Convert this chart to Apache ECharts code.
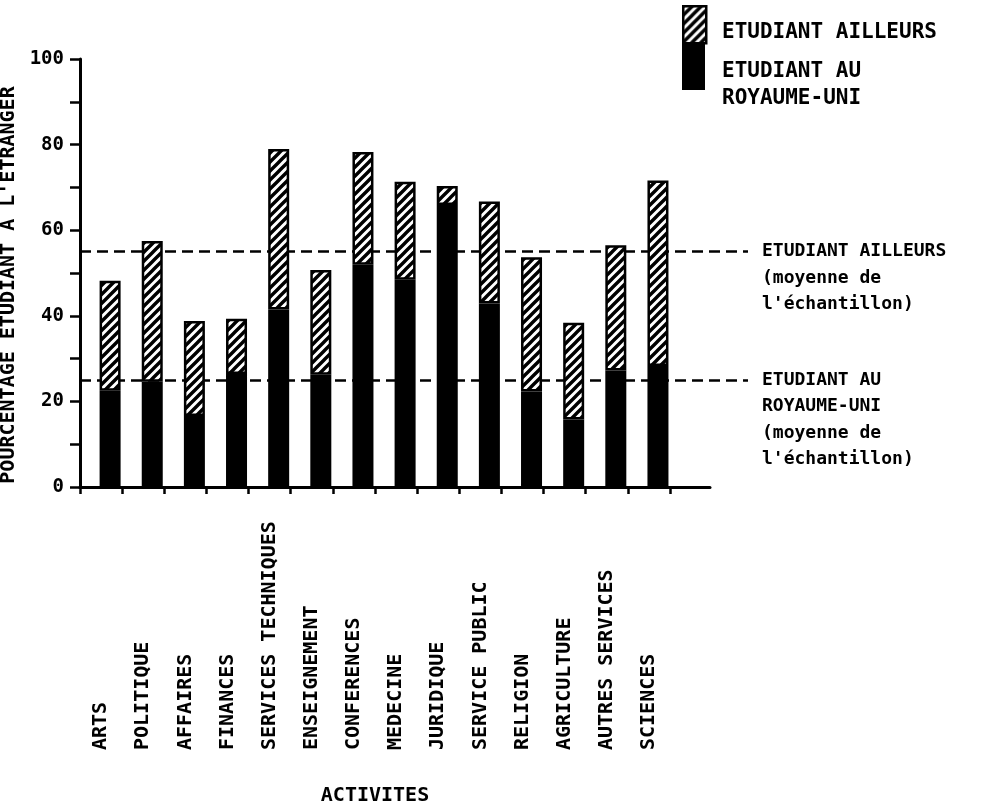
<!DOCTYPE html>
<html>
<head>
<meta charset="utf-8">
<script src="https://cdn.jsdelivr.net/npm/echarts@6/dist/echarts.min.js"></script>
<style>
  html, body { margin: 0; padding: 0; background: #fff; }
  #chart { width: 997px; height: 811px; }
</style>
</head>
<body>
<div id="chart"></div>
<script>
// ---- Data ----
const categories = ['ARTS', 'POLITIQUE', 'AFFAIRES', 'FINANCES', 'SERVICES TECHNIQUES', 'ENSEIGNEMENT',
  'CONFERENCES', 'MEDECINE', 'JURIDIQUE', 'SERVICE PUBLIC', 'RELIGION', 'AGRICULTURE', 'AUTRES SERVICES', 'SCIENCES'];
const ukValues = [22.5, 24.6, 16.6, 26.4, 41.5, 26.2, 51.9, 48.4, 65.9, 42.9, 22.3, 15.8, 27.2, 28.3];
const elsewhereValues = [25.7, 32.9, 22.2, 12.9, 37.5, 24.5, 26.4, 22.9, 4.4, 23.8, 31.4, 22.6, 29.3, 43.3];
const seriesNames = ['ETUDIANT AU ROYAUME-UNI', 'ETUDIANT AILLEURS'];
const legendLabels = ['ETUDIANT AILLEURS', 'ETUDIANT AU\nROYAUME-UNI'];
const meanValues = [55, 25];
const meanLabels = ['ETUDIANT AILLEURS\n(moyenne de\nl\'échantillon)', 'ETUDIANT AU\nROYAUME-UNI\n(moyenne de\nl\'échantillon)'];
const yMin = 0, yMax = 100, yTickStep = 10, yLabelStep = 20;
const yAxisTitle = 'POURCENTAGE ETUDIANT A L\'ETRANGER';
const xAxisTitle = 'ACTIVITES';

// ---- Hatch pattern ----
function makeHatch() {
  const s = 9;
  const c = document.createElement('canvas');
  c.width = s; c.height = s;
  const g = c.getContext('2d');
  g.fillStyle = '#fff';
  g.fillRect(0, 0, s, s);
  g.strokeStyle = '#000';
  g.lineWidth = 3.4;
  g.beginPath();
  g.moveTo(-1, s + 1); g.lineTo(s + 1, -1);
  g.moveTo(-2, 2); g.lineTo(2, -2);
  g.moveTo(s - 2, s + 2); g.lineTo(s + 2, s - 2);
  g.stroke();
  return c;
}
const hatch = makeHatch();
const hatchFill = { image: hatch, repeat: 'repeat' };

const FONT = "'DejaVu Sans Mono', monospace";
const chart = echarts.init(document.getElementById('chart'), null, { renderer: 'canvas' });

// Annotation label: first text line sits level with its dashed line.
function meanLabelText(t) {
  const n = t.split('\n').length;
  return '\n'.repeat(n - 1) + t;
}

const option = {
  backgroundColor: '#fff',
  animation: false,
  grid: [
    { left: 80, top: 59, width: 590, height: 428, outerBoundsMode: 'none' },
    { left: 80, top: 59, width: 630, height: 428, outerBoundsMode: 'none' },
    { left: 80, top: 59, width: 668, height: 428, outerBoundsMode: 'none' }
  ],
  xAxis: [
    {
      gridIndex: 0, type: 'category', data: categories, boundaryGap: true,
      axisLine: { show: true, lineStyle: { color: '#000', width: 3 } },
      axisTick: { show: true, interval: 0, length: 7, lineStyle: { color: '#000', width: 2.5 } },
      axisLabel: {
        interval: 0, rotate: 90, align: 'left', verticalAlign: 'middle', margin: 263,
        color: '#000', fontFamily: FONT, fontWeight: 'bold', fontSize: 20
      },
      name: xAxisTitle, nameLocation: 'middle', nameGap: 299,
      nameTextStyle: { color: '#000', fontFamily: FONT, fontWeight: 'bold', fontSize: 20 },
      splitLine: { show: false }
    },
    {
      gridIndex: 1, type: 'value', min: 0, max: 1,
      axisLine: { show: true, lineStyle: { color: '#000', width: 3 } },
      axisTick: { show: false }, axisLabel: { show: false }, splitLine: { show: false }
    },
    { gridIndex: 2, type: 'value', min: 0, max: 1, show: false }
  ],
  yAxis: [
    {
      gridIndex: 0, type: 'value', min: yMin, max: yMax, interval: yTickStep,
      axisLine: { show: true, lineStyle: { color: '#000', width: 3 } },
      axisTick: { show: true, length: 10, lineStyle: { color: '#000', width: 2.5 } },
      axisLabel: {
        margin: 16, color: '#000', fontFamily: FONT, fontWeight: 'bold', fontSize: 19,
        formatter: v => (v % yLabelStep === 0 ? String(v) : '')
      },
      splitLine: { show: false },
      name: yAxisTitle, nameLocation: 'middle', nameRotate: 90, nameGap: 53,
      nameTextStyle: { color: '#000', fontFamily: FONT, fontWeight: 'bold', fontSize: 20, padding: [0, 24, 0, 0] }
    },
    { gridIndex: 1, type: 'value', min: yMin, max: yMax, show: false },
    { gridIndex: 2, type: 'value', min: yMin, max: yMax, show: false }
  ],
  graphic: [
    { type: 'rect', left: 682, top: 5, shape: { width: 23, height: 37 }, style: { fill: hatchFill, stroke: '#000', lineWidth: 2.5 } },
    { type: 'rect', left: 682, top: 42, shape: { width: 23, height: 48 }, style: { fill: '#000' } },
    { type: 'text', left: 722, top: 22, style: { text: legendLabels[0], fill: '#000', font: "bold 21px 'DejaVu Sans Mono', monospace", lineHeight: 22 } },
    { type: 'text', left: 722, top: 58.75, style: { text: legendLabels[1], fill: '#000', font: "bold 21px 'DejaVu Sans Mono', monospace", lineHeight: 26.5 } }
  ],
  series: [
    {
      name: '_spacer', type: 'bar', xAxisIndex: 0, yAxisIndex: 0, stack: 'spacer',
      data: [], barWidth: 21, barGap: '-14%', silent: true
    },
    {
      name: seriesNames[0], type: 'bar', xAxisIndex: 0, yAxisIndex: 0, stack: 'total',
      data: ukValues, barWidth: 21, barGap: '-14%', z: 3,
      itemStyle: { color: '#000', borderColor: '#000', borderWidth: 2.5 }
    },
    {
      name: seriesNames[1], type: 'bar', xAxisIndex: 0, yAxisIndex: 0, stack: 'total',
      data: elsewhereValues, barWidth: 21, barGap: '-14%', z: 3,
      itemStyle: { color: hatchFill, borderColor: '#000', borderWidth: 2.5 }
    },
    {
      name: 'moyennes', type: 'line', xAxisIndex: 2, yAxisIndex: 2, data: [], z: 1,
      markLine: {
        silent: true, symbol: 'none', z: 1,
        lineStyle: { color: '#000', width: 2.5, type: [11, 6] },
        label: {
          show: true, position: 'end', distance: 14, align: 'left', verticalAlign: 'middle',
          color: '#000', fontFamily: FONT, fontWeight: 'bold', fontSize: 18, lineHeight: 26.5
        },
        data: meanValues.map((v, i) => ({
          yAxis: v,
          label: { formatter: meanLabelText(meanLabels[i]) }
        }))
      }
    }
  ]
};
chart.setOption(option);
</script>
</body>
</html>
